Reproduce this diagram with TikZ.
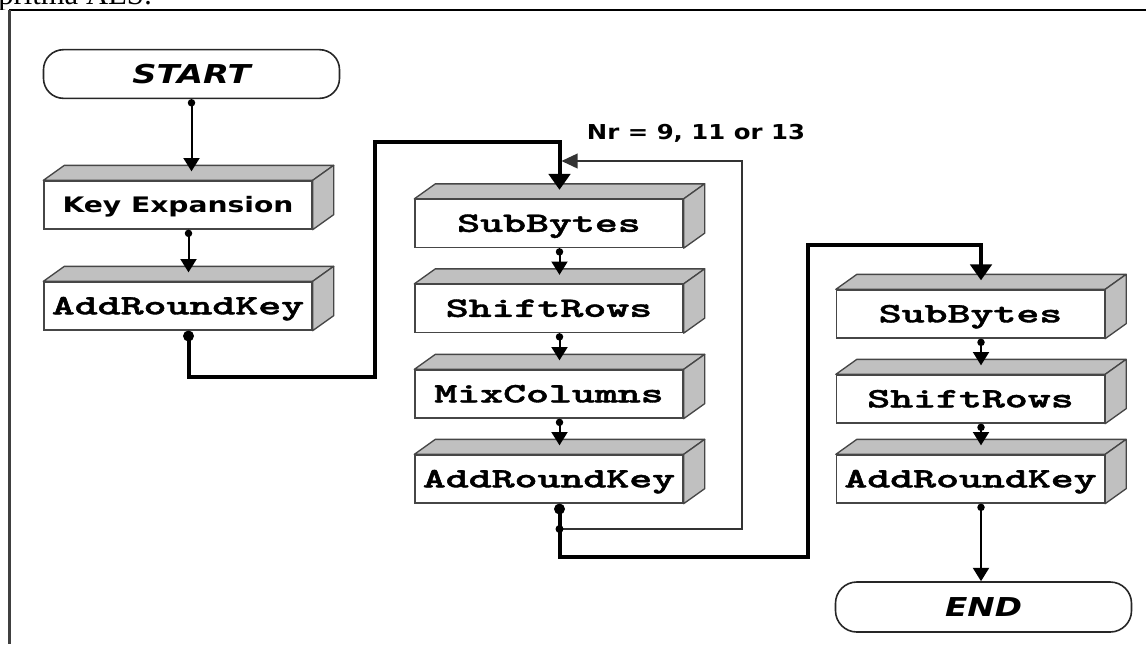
\documentclass[tikz,border=0pt]{standalone}
\usepackage{fontspec}
\usepackage{graphicx}
\usetikzlibrary{arrows.meta}
\newfontfamily\sansb{DejaVu Sans}
\newfontfamily\serifrm{Liberation Serif}
\newfontfamily\monob{lmmonolt10-bold.otf}[FakeBold=1.3]
\definecolor{facegray}{RGB}{192,192,192}
\definecolor{edge}{RGB}{70,70,70}
% stretch a text horizontally to a given width, keeping its height
\newcommand\stretchto[2]{\resizebox{#1}{\height}{#2}}
\newcommand\monotext[1]{\scalebox{1.56}[1]{#1}}
\def\dx{7.875pt}
\def\ah{6.75pt}
\begin{document}
\begin{tikzpicture}[x=0.75pt,y=-0.75pt,
  block/.style={draw=edge, fill=white, line width=1pt, minimum width=201pt,
    minimum height=36pt, inner sep=0pt, text height=12.5pt, text depth=0pt,
    font=\monob\fontsize{21}{21}\selectfont},
  face/.style={draw=edge, fill=facegray, line width=1pt, line join=round},
  term/.style={draw=black!85, line width=1.2pt, rounded corners=15pt, fill=white,
    inner sep=0pt, minimum width=222pt, minimum height=36.5pt,
    text height=14.2pt, text depth=0pt,
    font=\sansb\bfseries\itshape\fontsize{19.5}{19.5}\selectfont},
  flow/.style={line width=1.5pt, {Circle[length=5.5pt]}-{Triangle[width=12pt,length=10pt]}},
  bigflow/.style={line width=3pt, line join=miter, {Circle[length=8pt]}-{Triangle[width=16pt,length=12pt]}},
  backline/.style={line width=1.2pt, draw=black!80, -{Triangle[width=11pt,length=12pt]}},
  label/.style={font=\sansb\bfseries\fontsize{15.4}{15.4}\selectfont, inner sep=0pt,
    text height=11.25pt, text depth=0pt}
]
\useasboundingbox (0,0) rectangle (1146,644);

% clipped heading line above the frame
\begin{scope}
  \clip (0,0) rectangle (1146,9);
  \node[anchor=base west, inner sep=0pt, font=\serifrm\fontsize{23}{23}\selectfont]
    (heading) at (-2,4.5) {pritma AES:};
\end{scope}

% frame
\draw[line width=1.2pt] (9,10) -- (1146,10);
\draw[line width=2pt, draw=black!75] (9.5,10) -- (9.5,644);

% terminals
\node[term] (start) at (191.5,74) {\stretchto{88.5pt}{START}};
\node[term, minimum height=37.5pt, rounded corners=16pt] (end) at (983.5,607) {\stretchto{57.75pt}{END}};

% first column
\node[block, font=\sansb\bfseries\fontsize{16}{16}\selectfont, text height=11.7pt]
  (ke) at (178,205) {\stretchto{173.25pt}{Key Expansion}};
\node[block] (ark1) at (178,306) {\monotext{AddRoundKey}};

% round column
\node[block] (sb2)  at (549,223.5) {\monotext{SubBytes}};
\node[block] (sr2)  at (549,308.5) {\monotext{ShiftRows}};
\node[block] (mc2)  at (549,394)   {\monotext{MixColumns}};
\node[block] (ark2) at (549,479)   {\monotext{AddRoundKey}};

% final round column
\node[block] (sb3)  at (970.5,314) {\monotext{SubBytes}};
\node[block] (sr3)  at (970.5,399) {\monotext{ShiftRows}};
\node[block] (ark3) at (970.5,479) {\monotext{AddRoundKey}};

% top and side faces of the boxes
\foreach \n in {ke,ark1,sb2,sr2,mc2,ark2,sb3,sr3,ark3}{
  \filldraw[face] (\n.north west) -- ++(21,-15) -- ([shift={(21,-15)}]\n.north east)
    -- (\n.north east) -- cycle;
  \filldraw[face] (\n.north east) -- ++(21,-15) -- ([shift={(21,-15)}]\n.south east)
    -- (\n.south east) -- cycle;
}

% round count
\node[label] (nr) at (696,132) {\stretchto{163.5pt}{Nr = 9, 11 or 13}};

% entry points and bends
\coordinate (keIn) at ([xshift=\dx,yshift=\ah]ke.north);
\coordinate (sb2In) at ([xshift=\dx,yshift=\ah]sb2.north);
\coordinate (sb3In) at ([xshift=\dx,yshift=\ah]sb3.north);
\coordinate (ark1Out) at ([xshift=\dx]ark1.south);
\coordinate (ark2Out) at ([xshift=\dx]ark2.south);
\coordinate (ark3Out) at ([xshift=\dx]ark3.south);
\coordinate (b1) at (375,377);
\coordinate (b2) at (559.5,142);
\coordinate (b3) at (808,557);
\coordinate (b4) at (981,245);
\coordinate (jn) at (559.5,529);
\coordinate (lc) at (742,161);
\coordinate (le) at (561.5,161);

% connectors
\draw[flow] (start.south) -- (start.south |- keIn);
\foreach \a/\b in {ke/ark1, sb2/sr2, sr2/mc2, mc2/ark2, sb3/sr3, sr3/ark3}
  \draw[flow] ([xshift=\dx]\a.south) -- ([xshift=\dx,yshift=\ah]\b.north);
\draw[bigflow] (ark1Out) |- (b1) |- (b2) -- (sb2In);
\draw[bigflow] (ark2Out) |- (b3) |- (b4) -- (sb3In);
\draw[backline] (jn) -| (lc) -- (le);
\fill (jn) circle (3pt);
\draw[flow] (ark3Out) -- (ark3Out |- end.north);
\end{tikzpicture}
\end{document}
